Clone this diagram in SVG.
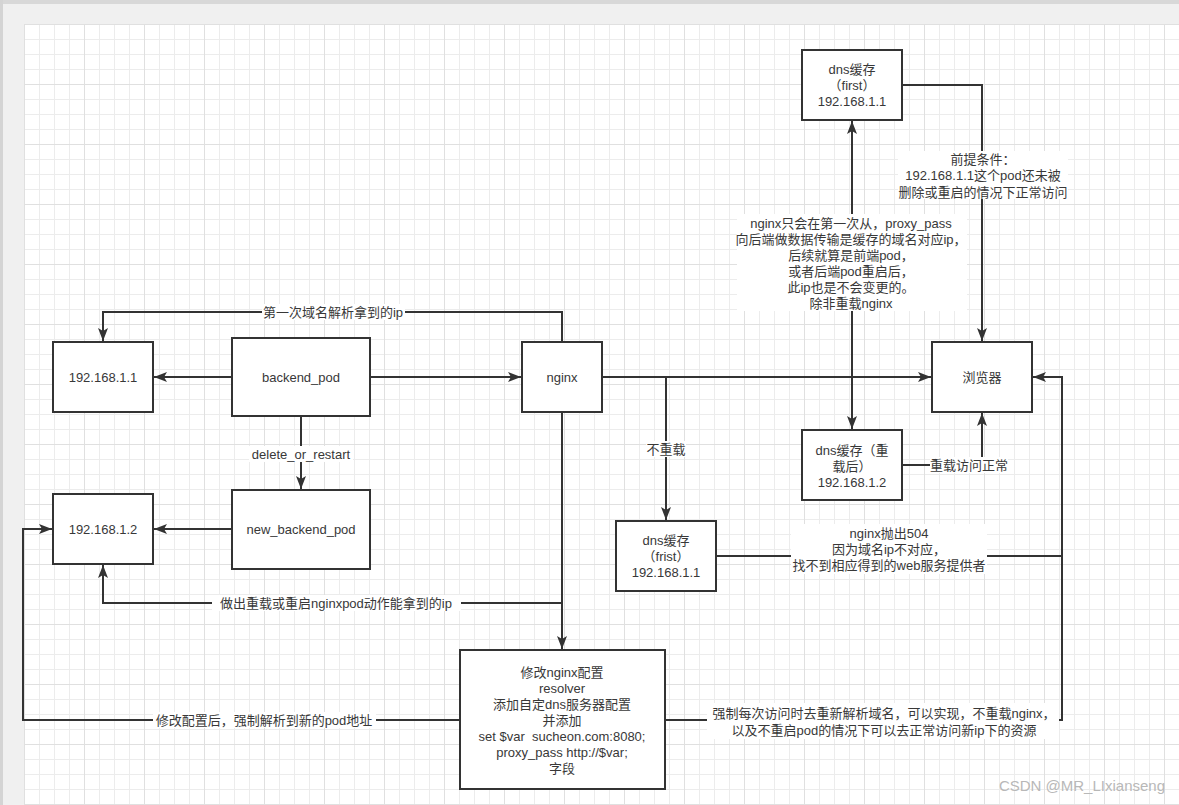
<svg xmlns="http://www.w3.org/2000/svg" width="1179" height="805" viewBox="0 0 1179 805">
<style>
.box{fill:#fff;stroke:#333;stroke-width:2}
.edge{fill:none;stroke:#333;stroke-width:2}
.t{font-family:"Liberation Sans","Noto Sans CJK SC",sans-serif;font-size:13px;fill:#383838;text-anchor:middle}
.lbg{fill:#fff}
.wm{font-family:"Liberation Sans","Noto Sans CJK SC",sans-serif;font-size:15px;fill:#b8b8b8;text-anchor:end}
</style>
<defs>
<pattern id="grid" patternUnits="userSpaceOnUse" x="24" y="24" width="60" height="60">
<rect width="60" height="60" fill="#fff"/>
<path d="M15.5,0V60M30.5,0V60M45.5,0V60M0,15.5H60M0,30.5H60M0,45.5H60" stroke="#ececec" stroke-width="1"/>
<path d="M0.5,0V60M0,0.5H60" stroke="#e0e0e0" stroke-width="1"/>
</pattern>
<marker id="arr" markerUnits="userSpaceOnUse" markerWidth="14" markerHeight="12" refX="13" refY="6" orient="auto-start-reverse">
<path d="M0,1 L13,6 L0,11 L3,6 z" fill="#333"/>
</marker>
</defs>
<rect width="1179" height="805" fill="#f0f0f0"/>
<rect width="1179" height="4" fill="#d8d8d8"/>
<rect width="3" height="805" fill="#d4d4d4"/>
<rect x="24" y="24" width="1155" height="781" fill="url(#grid)"/>

<g id="connectors">
<path class="edge" d="M562,342V312H103V341" marker-end="url(#arr)"/>
<path class="edge" d="M232,377H154" marker-end="url(#arr)"/>
<path class="edge" d="M370,377H521" marker-end="url(#arr)"/>
<path class="edge" d="M301,416V489" marker-end="url(#arr)"/>
<path class="edge" d="M232,529H154" marker-end="url(#arr)"/>
<path class="edge" d="M602,377H931" marker-end="url(#arr)"/>
<path class="edge" d="M666,377V520" marker-end="url(#arr)"/>
<path class="edge" d="M852,121V429" marker-start="url(#arr)" marker-end="url(#arr)"/>
<path class="edge" d="M902,85H982V341" marker-end="url(#arr)"/>
<path class="edge" d="M902,465H982V413" marker-end="url(#arr)"/>
<path class="edge" d="M716,556H1062"/>
<path class="edge" d="M665,720H1062V377H1033" marker-end="url(#arr)"/>
<path class="edge" d="M562,412V603H103V565" marker-end="url(#arr)"/>
<path class="edge" d="M562,412V649" marker-end="url(#arr)"/>
<path class="edge" d="M460,720H23V529H52" marker-end="url(#arr)"/>

<rect class="lbg" x="262" y="304" width="143" height="16"/>
<text class="t" x="333" y="316.5">第一次域名解析拿到的ip</text>
<rect class="lbg" x="249" y="446" width="104" height="16"/>
<text class="t" x="301" y="458.5">delete_or_restart</text>
<rect class="lbg" x="212" y="595" width="249" height="16"/>
<text class="t" x="336" y="607.5">做出重载或重启nginxpod动作能拿到的ip</text>
<rect class="lbg" x="153" y="712" width="223" height="16"/>
<text class="t" x="264" y="724.5">修改配置后，强制解析到新的pod地址</text>
<rect class="lbg" x="646" y="441" width="40" height="16"/>
<text class="t" x="666" y="453.5">不重载</text>
<rect class="lbg" x="930" y="457" width="78" height="16"/>
<text class="t" x="969" y="469.5">重载访问正常</text>
<rect class="lbg" x="791" y="524" width="196" height="50"/>
<text class="t" x="889" y="537.5">nginx抛出504</text>
<text class="t" x="889" y="553.5">因为域名ip不对应，</text>
<text class="t" x="889" y="569.5">找不到相应得到的web服务提供者</text>
<rect class="lbg" x="707" y="703" width="352" height="36"/>
<text class="t" x="884" y="717.5">强制每次访问时去重新解析域名，可以实现，不重载nginx，</text>
<text class="t" x="884" y="734.5">以及不重启pod的情况下可以去正常访问新ip下的资源</text>
<rect class="lbg" x="898" y="151" width="170" height="48"/>
<text class="t" x="983" y="163.5">前提条件：</text>
<text class="t" x="983" y="180">192.168.1.1这个pod还未被</text>
<text class="t" x="983" y="196.5">删除或重启的情况下正常访问</text>
<rect class="lbg" x="737" y="214" width="230" height="97"/>
<text class="t" x="851" y="227.5">nginx只会在第一次从，proxy_pass</text>
<text class="t" x="851" y="243.5">向后端做数据传输是缓存的域名对应ip，</text>
<text class="t" x="851" y="259.5">后续就算是前端pod，</text>
<text class="t" x="851" y="275.5">或者后端pod重启后，</text>
<text class="t" x="851" y="291.5">此ip也是不会变更的。</text>
<text class="t" x="851" y="307.5">除非重载nginx</text>
</g>

<g id="n-ip1">
<rect class="box" x="53" y="342" width="100" height="70"/>
<text class="t" x="103" y="381.5">192.168.1.1</text>
</g>
<g id="n-backend">
<rect class="box" x="232" y="338" width="138" height="78"/>
<text class="t" x="301" y="381.5">backend_pod</text>
</g>
<g id="n-nginx">
<rect class="box" x="522" y="342" width="80" height="70"/>
<text class="t" x="562" y="381.5">nginx</text>
</g>
<g id="n-browser">
<rect class="box" x="932" y="342" width="100" height="70"/>
<text class="t" x="982" y="381.5">浏览器</text>
</g>
<g id="n-ip2">
<rect class="box" x="53" y="494" width="100" height="70"/>
<text class="t" x="103" y="533.5">192.168.1.2</text>
</g>
<g id="n-newbackend">
<rect class="box" x="232" y="490" width="138" height="79"/>
<text class="t" x="301" y="533.5">new_backend_pod</text>
</g>
<g id="n-dns-first">
<rect class="box" x="802" y="50" width="100" height="70"/>
<text class="t" x="852" y="74">dns缓存</text>
<text class="t" x="852" y="90">（first）</text>
<text class="t" x="852" y="106">192.168.1.1</text>
</g>
<g id="n-dns-reload">
<rect class="box" x="802" y="430" width="100" height="70"/>
<text class="t" x="852" y="454.5">dns缓存（重</text>
<text class="t" x="852" y="470.5">载后）</text>
<text class="t" x="852" y="486.5">192.168.1.2</text>
</g>
<g id="n-dns-frist">
<rect class="box" x="616" y="521" width="100" height="70"/>
<text class="t" x="666" y="545">dns缓存</text>
<text class="t" x="666" y="561">（frist）</text>
<text class="t" x="666" y="577">192.168.1.1</text>
</g>
<g id="n-config">
<rect class="box" x="460" y="650" width="205" height="139"/>
<text class="t" x="562" y="677">修改nginx配置</text>
<text class="t" x="562" y="693">resolver</text>
<text class="t" x="562" y="709">添加自定dns服务器配置</text>
<text class="t" x="562" y="725">并添加</text>
<text class="t" x="562" y="741" xml:space="preserve">set $var  sucheon.com:8080;</text>
<text class="t" x="562" y="757">proxy_pass http://$var;</text>
<text class="t" x="562" y="773">字段</text>
</g>
<text class="wm" x="1165" y="791">CSDN @MR_LIxianseng</text>
</svg>
